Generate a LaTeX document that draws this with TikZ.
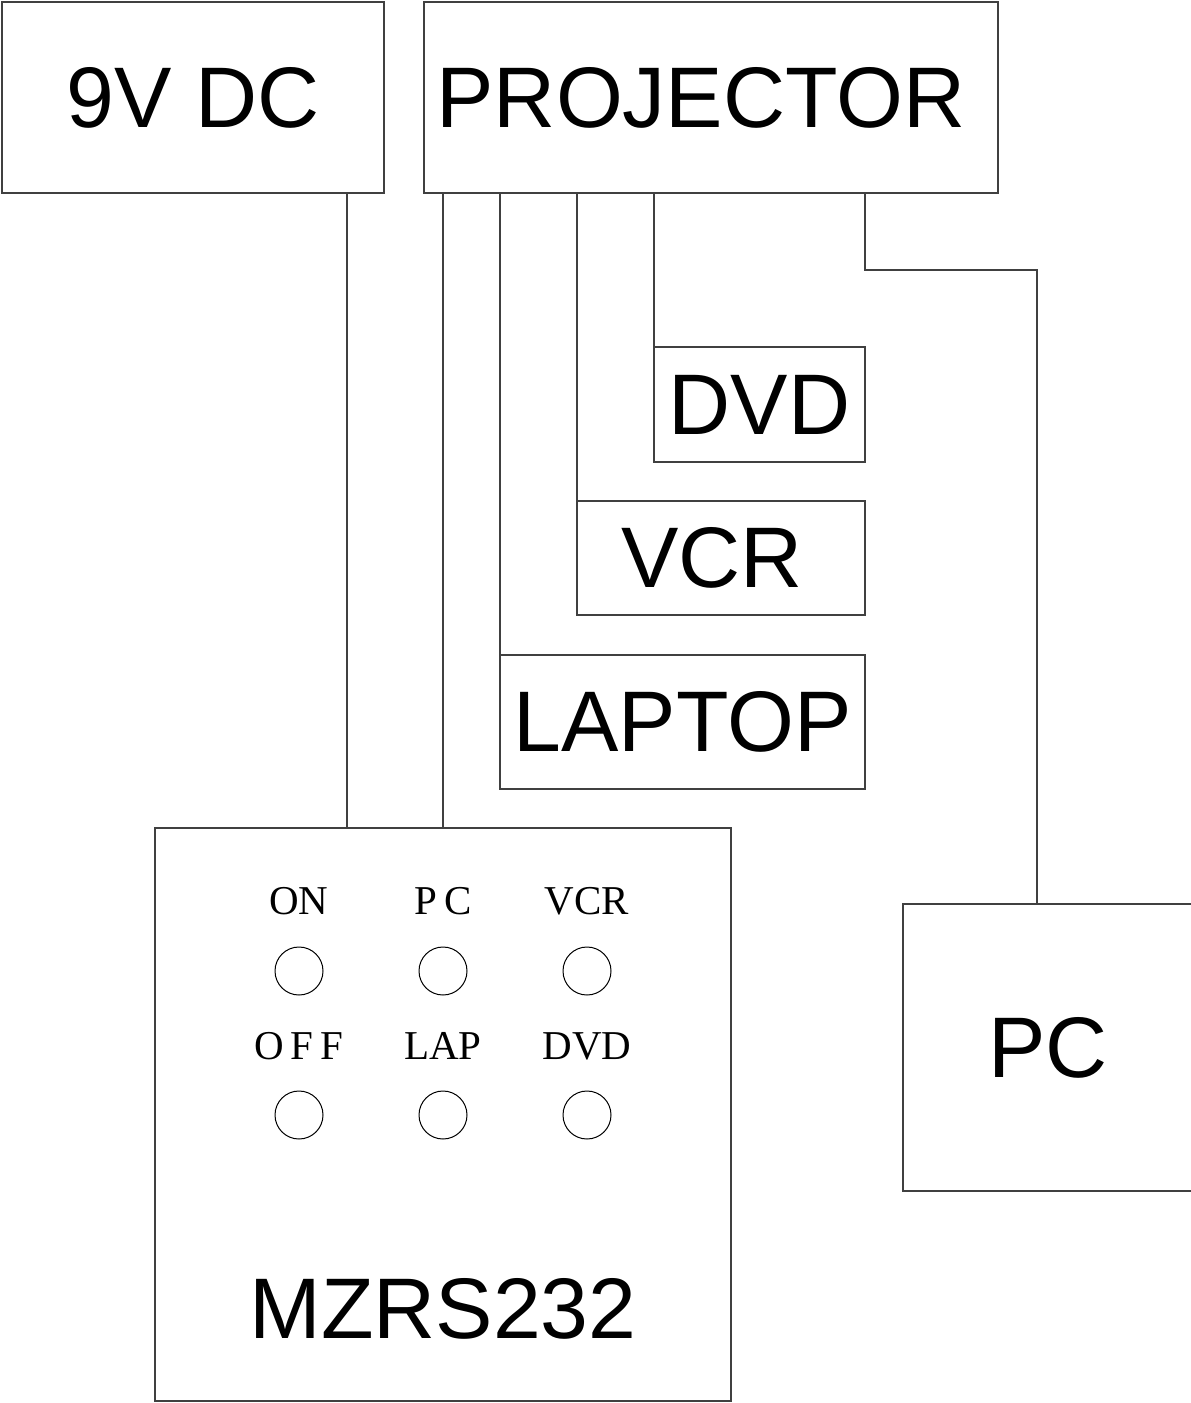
\documentclass[tikz,border=0pt]{standalone}
\usepackage{fontspec}
\setmainfont{Liberation Serif}
\newfontfamily\arialf{Liberation Sans}
\tikzset{
  box/.style={draw=black!75, line width=0.7pt, inner sep=0pt, outer sep=0pt,
    font=\arialf\fontsize{43}{50}\selectfont},
  wire/.style={draw=black!75, line width=0.7pt},
  led/.style={draw=black, line width=0.5pt, circle, minimum size=24pt, inner sep=0pt},
  lbl/.style={anchor=base, inner sep=0pt, font=\fontsize{20.5}{24}\selectfont},
  big/.style={anchor=base, inner sep=0pt, font=\arialf\fontsize{43}{50}\selectfont}
}
\begin{document}
\begin{tikzpicture}[x=0.5pt,y=-0.5pt]
\useasboundingbox (0,0) rectangle (1190,1403);
% boxes
\node[box, minimum width=191pt, minimum height=95.5pt] (dc) at (193,97.5) {9V DC};
\node[box, minimum width=287pt, minimum height=95.5pt] (proj) at (711,97.5) {PROJECTOR\hspace*{10pt}};
\node[box, minimum width=105.5pt, minimum height=57.5pt] (dvd) at (759.5,404.5) {DVD};
\node[box, minimum width=144pt, minimum height=57pt] (vcr) at (721,558) {VCR\hspace*{9pt}};
\node[box, minimum width=182.5pt, minimum height=67pt] (lap) at (682.5,722) {LAPTOP};
\node[box, minimum width=288pt, minimum height=286.5pt] (mz) at (443,1114.5) {};
\node[box, minimum width=145pt, minimum height=143.5pt] (pc) at (1048,1047.5) {PC};
\node[big] (mzt) at (443,1338) {MZRS232};
% panel labels and LEDs
\node[lbl] (lon)  at (299,914) {ON};
\node[lbl] (lpc)  at (443,914) {P\,C};
\node[lbl] (lvcr) at (587,914) {VCR};
\node[lbl] (loff) at (299,1059) {O\,F\,F};
\node[lbl] (llap) at (443,1059) {LAP};
\node[lbl] (ldvd) at (587,1059) {DVD};
\node[led] (bon)  at (299,971) {};
\node[led] (bpc)  at (443,971) {};
\node[led] (bvcr) at (587,971) {};
\node[led] (boff) at (299,1115) {};
\node[led] (blap) at (443,1115) {};
\node[led] (bdvd) at (587,1115) {};
% wires
\coordinate (xdc) at (347,0);
\coordinate (xpc1) at (865,270);
\coordinate (xpc2) at (1037,270);
\draw[wire] (dc.south -| xdc) -- (mz.north -| xdc);
\draw[wire] (proj.south -| mz.north) -- (mz.north);
\draw[wire] (proj.south -| lap.north west) -- (lap.north west);
\draw[wire] (proj.south -| vcr.north west) -- (vcr.north west);
\draw[wire] (proj.south -| dvd.north west) -- (dvd.north west);
\draw[wire] (proj.south -| xpc1) -- (xpc1) -- (xpc2) -- (pc.north -| xpc2);
\end{tikzpicture}
\end{document}
